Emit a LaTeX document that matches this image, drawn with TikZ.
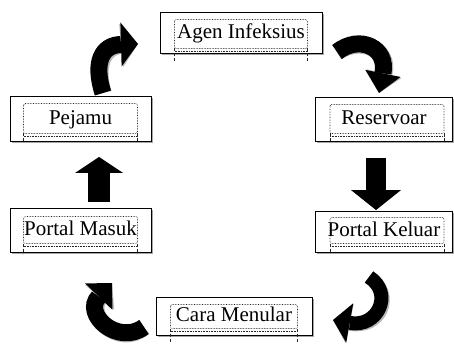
\documentclass[tikz,border=0pt]{standalone}
\usepackage{fontspec}
\setmainfont{Liberation Serif}
\usetikzlibrary{arrows.meta,shadows,calc}
\tikzset{
  box/.style={draw, line width=1pt, fill=white, inner sep=0pt,
    text height=14pt, text depth=4pt,
    font=\fontsize{21}{25}\selectfont,
    drop shadow={shadow xshift=1.5pt, shadow yshift=-1.5pt, fill=gray, opacity=0.7}},
  dotbox/.style={densely dotted, line width=0.6pt, black!85},
  vline/.style={densely dashed, line width=0.6pt, black!85},
  shade/.style={gray!55},
}
\newcommand\inframe[6]{%
  \draw[dotbox, rounded corners=1.5pt] ($(#1.north west)+(#2,#4)$) rectangle ($(#1.south east)+(-#3,-#5)$);
  \draw[dotbox] ($(#1.south west)+(#2,-#5+2.5)$) -- ($(#1.south east)+(-#3,-#5+2.5)$);
  \draw[vline] ($(#1.south west)+(#2,-#5)$) -- ($(#1.south west)+(#2,-#5+#6)$);
  \draw[vline] ($(#1.south east)+(-#3,-#5)$) -- ($(#1.south east)+(-#3,-#5+#6)$);
}
\newcommand\shadarrow[2]{%
  \draw[#1, shade, shift={(2,2)}] #2;
  \draw[#1, black] #2;
}
\begin{document}
\begin{tikzpicture}[x=1pt, y=-1pt]
\useasboundingbox (0,0) rectangle (454,347);

% boxes
\node[box, minimum width=162pt, minimum height=41pt] (agen) at (241,33.5) {Agen Infeksius};
\node[box, minimum width=141pt, minimum height=45pt] (pejamu) at (80.5,119.5) {Pejamu};
\node[box, minimum width=137pt, minimum height=44pt] (reservoar) at (384,120) {Reservoar};
\node[box, minimum width=141pt, minimum height=44pt] (masuk) at (80.5,230) {Portal Masuk};
\node[box, minimum width=137pt, minimum height=41pt] (keluar) at (384,231.5) {Portal Keluar};
\node[box, minimum width=156pt, minimum height=38pt] (cara) at (234,316) {Cara Menular};

% inner dotted frames
\inframe{agen}{15}{15}{7}{6}{14}
\inframe{pejamu}{14}{14}{7}{9}{8}
\inframe{reservoar}{15}{9}{7}{9}{8}
\inframe{masuk}{14}{14}{9}{9}{10}
\inframe{keluar}{15}{9}{7}{9}{8}
\inframe{cara}{15}{15}{8}{7}{14}

% arrow end points
\coordinate (tailA) at (103,93);   \coordinate (tipA) at (138,44);
\coordinate (tailB) at (337,52);   \coordinate (tipB) at (379,93);
\coordinate (tailC) at (376,158);  \coordinate (tipC) at (376,210);
\coordinate (tailD) at (369,277);  \coordinate (tipD) at (333,320);
\coordinate (tailE) at (144,327);  \coordinate (tipE) at (112,283);
\coordinate (tailF) at (99,202);   \coordinate (tipF) at (99,157);

% Pejamu -> Agen Infeksius
\shadarrow{line width=17pt, -{Triangle[width=44pt,length=17pt,line width=0pt]}}
  {(tailA) .. controls (93,62) and (102,45) .. (tipA)}
% Agen Infeksius -> Reservoar
\shadarrow{line width=17pt, -{Triangle[width=36pt,length=20pt,line width=0pt]}}
  {(tailB) .. controls (360,34) and (388,48) .. (tipB)}
% Reservoar -> Portal Keluar
\shadarrow{line width=20pt, -{Triangle[width=50pt,length=20pt,line width=0pt]}}
  {(tailC) -- (tipC)}
% Portal Keluar -> Cara Menular
\shadarrow{line width=14pt, -{Triangle[width=40pt,length=17pt,line width=0pt]}}
  {(tailD) .. controls (394,293) and (378,328) .. (tipD)}
% Cara Menular -> Portal Masuk
\shadarrow{line width=17pt, -{Triangle[width=38pt,length=19pt,line width=0pt]}}
  {(tailE) .. controls (118,346) and (82,314) .. (tipE)}
% Portal Masuk -> Pejamu
\shadarrow{line width=22pt, -{Triangle[width=48pt,length=16pt,line width=0pt]}}
  {(tailF) -- (tipF)}
\end{tikzpicture}
\end{document}
